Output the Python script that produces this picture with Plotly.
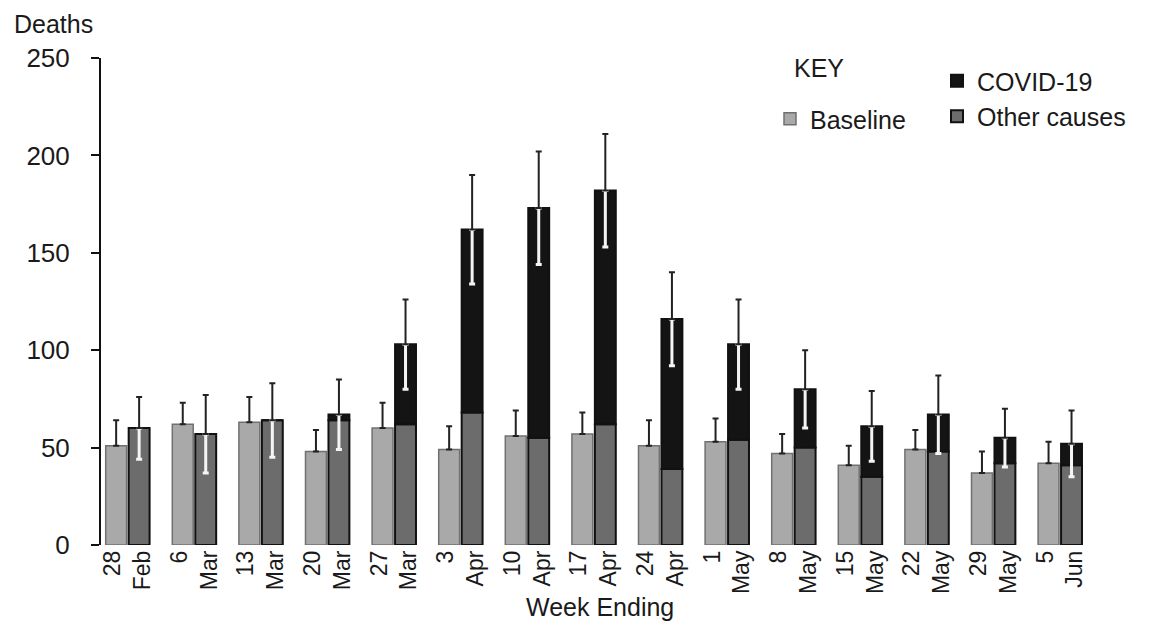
import plotly.graph_objects as go

# Weekly deaths: baseline vs registered (other causes + COVID-19)
weeks = ["28<br>Feb", "6<br>Mar", "13<br>Mar", "20<br>Mar", "27<br>Mar",
         "3<br>Apr", "10<br>Apr", "17<br>Apr", "24<br>Apr", "1<br>May",
         "8<br>May", "15<br>May", "22<br>May", "29<br>May", "5<br>Jun"]
baseline = [51, 62, 63, 48, 60, 49, 56, 57, 51, 53, 47, 41, 49, 37, 42]
baseline_err = [13, 11, 13, 11, 13, 12, 13, 11, 13, 12, 10, 10, 10, 11, 11]
other_causes = [60, 57, 64, 64, 62, 68, 55, 62, 39, 54, 50, 35, 48, 42, 41]
covid = [0, 0, 0, 3, 41, 94, 118, 120, 77, 49, 30, 26, 19, 13, 11]
observed_err = [16, 20, 19, 18, 23, 28, 29, 29, 24, 23, 20, 18, 20, 15, 17]

observed_total = [o + c for o, c in zip(other_causes, covid)]

FONT = "Liberation Sans, Arial, sans-serif"

# Plot area geometry in pixels, used to place free text
PLOT_L, PLOT_W, PLOT_B, PLOT_H = 101, 999, 545, 487


def px_x(px):
    return (px - PLOT_L) / PLOT_W


def px_y(py):
    return (PLOT_B - py) / PLOT_H


fig = go.Figure()

fig.add_trace(go.Bar(
    x=weeks, y=baseline, name="Baseline", offsetgroup="base",
    marker=dict(color="#a9a9a9", line=dict(color="#707070", width=1.5)),
    error_y=dict(type="data", symmetric=False, array=baseline_err,
                 arrayminus=[0] * len(baseline_err),
                 color="#222222", thickness=2, width=3),
    legend="legend",
))

fig.add_trace(go.Bar(
    x=weeks, y=other_causes, name="Other causes", offsetgroup="obs",
    marker=dict(color="#6c6c6c", line=dict(color="#111111", width=2)),
    legend="legend2", legendrank=2,
))

fig.add_trace(go.Bar(
    x=weeks, y=covid, base=other_causes, name="COVID-19", offsetgroup="obs",
    marker=dict(color="#141414", line=dict(color="#111111", width=2)),
    legend="legend2", legendrank=1,
))

# Uncertainty on registered totals: dark above the bar, light inside it
fig.add_trace(go.Bar(
    x=weeks, y=observed_total, offsetgroup="obs", showlegend=False,
    marker=dict(color="rgba(0,0,0,0)", line=dict(width=0)),
    error_y=dict(type="data", symmetric=False, array=[0] * len(observed_err),
                 arrayminus=observed_err, color="#f4f4f4", thickness=3, width=3),
    hoverinfo="skip",
))
fig.add_trace(go.Bar(
    x=weeks, y=observed_total, offsetgroup="obs", showlegend=False,
    marker=dict(color="rgba(0,0,0,0)", line=dict(width=0)),
    error_y=dict(type="data", symmetric=False, array=observed_err,
                 arrayminus=[0] * len(observed_err),
                 color="#222222", thickness=2, width=3),
    hoverinfo="skip",
))

fig.update_layout(
    width=1149, height=622,
    margin=dict(l=PLOT_L, r=1149 - PLOT_L - PLOT_W, t=58, b=622 - PLOT_B,
                autoexpand=False),
    paper_bgcolor="white", plot_bgcolor="white",
    barmode="group", bargap=0.31, bargroupgap=0.09,
    font=dict(family=FONT, color="#1a1a1a"),
    legend=dict(
        xref="container", yref="container", x=770 / 1149, y=1 - 96 / 622,
        xanchor="left", yanchor="top",
        font=dict(size=25, family=FONT), bgcolor="rgba(0,0,0,0)",
        itemwidth=30,
    ),
    legend2=dict(
        xref="container", yref="container", x=937 / 1149, y=1 - 58 / 622,
        xanchor="left", yanchor="top", traceorder="normal",
        font=dict(size=25, family=FONT), bgcolor="rgba(0,0,0,0)",
        itemwidth=30, tracegroupgap=0,
    ),
    annotations=[
        dict(text="Deaths", xref="paper", yref="paper",
             x=px_x(12), y=px_y(24),
             xanchor="left", yanchor="middle", showarrow=False,
             font=dict(size=25, family=FONT)),
        dict(text="Week Ending", xref="paper", yref="paper",
             x=px_x(600), y=px_y(607),
             xanchor="center", yanchor="middle", showarrow=False,
             font=dict(size=25, family=FONT)),
        dict(text="KEY", xref="paper", yref="paper",
             x=px_x(792), y=px_y(68),
             xanchor="left", yanchor="middle", showarrow=False,
             font=dict(size=25, family=FONT)),
    ],
)

fig.update_yaxes(
    range=[0, 250], tickvals=[0, 50, 100, 150, 200, 250],
    showgrid=False, zeroline=False,
    showline=True, linecolor="#111111", linewidth=2,
    ticks="outside", ticklen=8, tickcolor="#111111", tickwidth=1.5,
    ticklabelstandoff=16,
    tickfont=dict(size=26, family=FONT),
)
fig.update_xaxes(
    range=[-0.4, 14.6], showgrid=False, showline=False, zeroline=False,
    ticks="", tickangle=-90, tickfont=dict(size=23, family=FONT),
)

fig.write_html("out.html")
